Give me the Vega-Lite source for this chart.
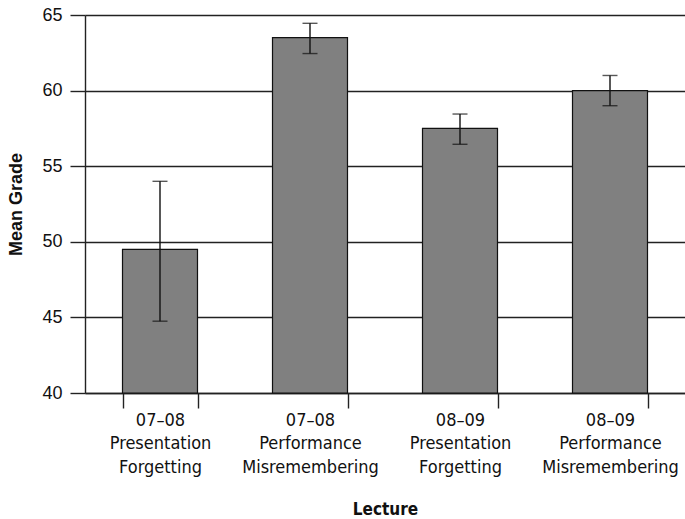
{
  "$schema": "https://vega.github.io/schema/vega-lite/v6.json",
  "width": 600,
  "height": 378,
  "autosize": {"type": "none"},
  "padding": {"left": 85, "top": 15, "right": 0, "bottom": 126},
  "background": "white",
  "config": {
    "view": {"stroke": null},
    "axis": {
      "domainColor": "#222",
      "domainWidth": 1.4,
      "tickColor": "#222",
      "tickWidth": 1.4,
      "gridColor": "#222",
      "gridWidth": 1.4,
      "gridOpacity": 1,
      "labelColor": "#111",
      "titleColor": "#111"
    }
  },
  "data": {
    "values": [
      {"lecture": "07–08|Presentation|Forgetting", "mean": 49.5, "lo": 44.75, "hi": 54.0},
      {"lecture": "07–08|Performance|Misremembering", "mean": 63.5, "lo": 62.45, "hi": 64.45},
      {"lecture": "08–09|Presentation|Forgetting", "mean": 57.5, "lo": 56.45, "hi": 58.45},
      {"lecture": "08–09|Performance|Misremembering", "mean": 60.0, "lo": 59.0, "hi": 61.0}
    ]
  },
  "encoding": {
    "x": {
      "field": "lecture",
      "type": "nominal",
      "sort": null,
      "scale": {"paddingInner": 0.5, "paddingOuter": 0.25},
      "axis": {
        "title": "Lecture",
        "labelAngle": 0,
        "labelExpr": "datum.value ? split(datum.value, '|') : ''",
        "labelFont": "DejaVu Sans Condensed",
        "labelFontSize": 18,
        "labelLineHeight": 23.5,
        "labelPadding": 3,
        "tickBand": "extent",
        "tickSize": 15,
        "titleFont": "DejaVu Sans Condensed",
        "titleFontSize": 17,
        "titleFontWeight": "bold",
        "titlePadding": 25
      }
    }
  },
  "layer": [
    {
      "mark": {"type": "bar", "fill": "#808080", "stroke": "#111", "strokeWidth": 1.2},
      "encoding": {
        "y": {
          "field": "mean",
          "type": "quantitative",
          "scale": {"domain": [40, 65], "nice": false, "zero": false},
          "axis": {
            "title": "Mean Grade",
            "values": [40, 45, 50, 55, 60, 65],
            "grid": true,
            "tickSize": 15,
            "labelPadding": 8,
            "labelFont": "Liberation Sans",
            "labelFontSize": 18,
            "titleFont": "Liberation Sans",
            "titleFontSize": 18,
            "titleFontWeight": "bold",
            "titlePadding": 16
          }
        },
        "y2": {"datum": 40}
      }
    },
    {
      "mark": {"type": "rule", "color": "#111", "strokeWidth": 1.4},
      "encoding": {
        "y": {"field": "lo", "type": "quantitative"},
        "y2": {"field": "hi"}
      }
    },
    {
      "mark": {"type": "tick", "color": "#111", "size": 15, "thickness": 1.4, "orient": "horizontal"},
      "encoding": {"y": {"field": "lo", "type": "quantitative"}}
    },
    {
      "mark": {"type": "tick", "color": "#111", "size": 15, "thickness": 1.4, "orient": "horizontal"},
      "encoding": {"y": {"field": "hi", "type": "quantitative"}}
    }
  ]
}
